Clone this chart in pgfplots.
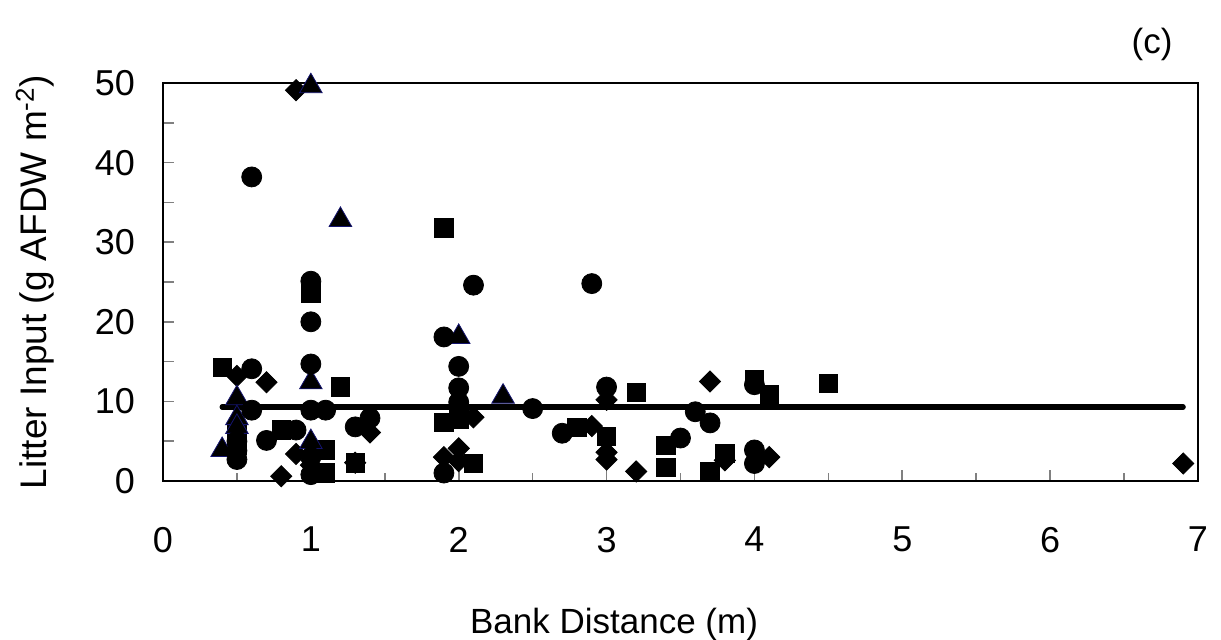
\documentclass[border=0pt]{standalone}
\usepackage{pgfplots}
\pgfplotsset{compat=1.18}
\usepackage{fontspec}
\setmainfont{Liberation Sans}
\definecolor{navyedge}{RGB}{20,20,110}
\begin{document}
\fontsize{17.5}{21}\selectfont
\begin{tikzpicture}
\path[use as bounding box] (-81.5pt,-79pt) rectangle (529pt,240.5pt);
\begin{axis}[
  at={(0,0)}, anchor=south west,
  scale only axis, width=517.5pt, height=199pt,
  xmin=0, xmax=7, ymin=0, ymax=50,
  xtick={0,1,...,7}, ytick={0,10,...,50},
  minor x tick num=1, minor y tick num=1,
  xtick pos=bottom, ytick pos=left,
  tick align=inside,
  major tick length=5.3pt, minor tick length=4pt,
  y tick style={line width=0.8pt},
  x tick style={line width=0.8pt},
  minor y tick style={/pgfplots/minor tick length=5.3pt},
  axis line style={line width=1.2pt},
  /pgf/number format/assume math mode=true,
  tick label style={font=\fontsize{18}{21}\selectfont},
  xticklabel style={yshift=-17pt},
  yticklabel style={xshift=-8pt},
  xlabel={Bank Distance (m)},
  ylabel={Litter Input (g AFDW m\textsuperscript{-2})},
  every axis x label/.style={at={([yshift=-71.5pt]axis description cs:0.4358,0)}, anchor=center, font=\fontsize{17.5}{21}\selectfont},
  every axis y label/.style={at={([xshift=-64pt]axis description cs:0,0.5)}, anchor=center, rotate=90, font=\fontsize{18.5}{22}\selectfont},
  title={(c)},
  every axis title/.style={at={([yshift=19.5pt]axis description cs:0.9556,1)}, anchor=center, font=\fontsize{17.5}{21}\selectfont},
  clip=false,
]
\addplot[line width=2.6pt, line cap=round, no markers] coordinates {(0.4,9.3) (6.9,9.3)};
% diamonds
\addplot[only marks, mark=square*, mark size=3.75pt, mark options={rotate=45, fill=black, draw=black}] coordinates {
(0.9,49.1) (0.5,13.2) (0.7,12.4) (0.9,3.4) (0.8,0.6) (1.4,6.1) (1.3,2.3) (1.0,2.0)
(1.9,3.0) (2.0,4.1) (2.0,2.5) (2.1,8.0) (2.9,6.9) (3.0,10.2) (3.0,3.6) (3.0,2.7)
(3.2,1.2) (3.7,12.5) (3.8,2.6) (4.1,3.0) (6.9,2.2)
};
% squares
\addplot[only marks, mark=square*, mark size=4.6pt, mark options={fill=black, draw=black}] coordinates {
(0.4,14.3) (0.5,5.8) (0.5,4.5) (0.8,6.4) (1.0,23.6) (1.2,11.8) (1.1,3.9) (1.1,1.0)
(1.3,2.3) (1.9,31.8) (1.9,7.4) (2.0,7.8) (2.1,2.2) (2.8,6.7) (3.0,5.6) (3.2,11.1)
(3.4,4.5) (3.4,1.7) (3.7,1.2) (3.8,3.5) (4.0,12.8) (4.1,10.8) (4.5,12.3)
};
% triangles
\addplot[only marks, mark=triangle*, mark size=6.5pt, mark options={fill=black, draw=navyedge, line width=0.4pt}] coordinates {
(1.0,49.6) (1.2,32.8) (2.0,18.1) (1.0,12.4) (2.3,10.6) (0.5,10.4) (0.5,7.9) (0.5,6.8)
(0.4,3.9) (1.0,4.9)
};
% circles
\addplot[only marks, mark=*, mark size=5pt, mark options={fill=black, draw=black}] coordinates {
(0.6,38.2) (1.0,25.1) (1.0,20.0) (1.0,14.7) (1.0,8.9) (1.1,8.9) (0.6,14.1) (0.6,8.9)
(0.7,5.1) (0.9,6.4) (0.5,2.7) (0.5,3.8) (0.5,5.0) (1.0,3.0) (1.0,0.8) (1.3,6.8)
(1.4,7.9) (1.9,18.1) (2.0,14.4) (2.0,11.7) (2.0,9.9) (2.1,24.6) (1.9,1.0) (2.5,9.1)
(2.7,6.0) (2.9,24.8) (3.0,11.8) (3.5,5.4) (3.6,8.7) (3.7,7.3) (4.0,12.1) (4.0,3.9)
(4.0,2.2)
};
\end{axis}
\end{tikzpicture}
\end{document}
